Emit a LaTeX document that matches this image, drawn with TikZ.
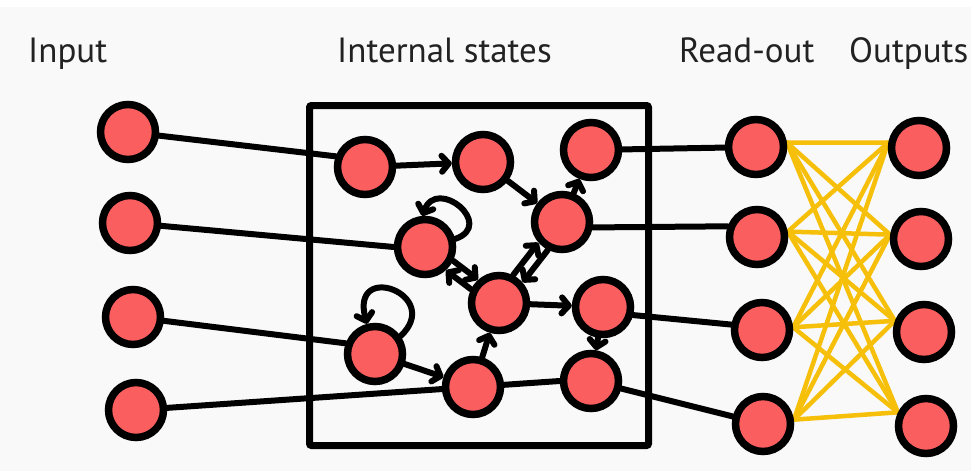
\documentclass[tikz,border=0pt]{standalone}
\usepackage{fontspec}
\setmainfont{PT Sans}
\usetikzlibrary{arrows.meta,calc,backgrounds}
\definecolor{nodered}{RGB}{250,94,94}
\definecolor{ylw}{RGB}{246,192,10}
\definecolor{bgc}{RGB}{249,249,249}
\definecolor{txt}{RGB}{34,34,34}
\begin{document}
\begin{tikzpicture}[x=1pt,y=-1pt,
  neuron/.style={circle,draw=black,line width=7.5pt,fill=nodered,minimum size=55pt,inner sep=0pt},
  conn/.style={line width=6pt,black,line cap=round},
  arr/.style={conn,-{Straight Barb[length=7pt,width=16pt,round]}},
  dbl/.style={arr,shorten <=31pt,shorten >=31pt},
  yl/.style={line width=4.5pt,ylw,line cap=round},
  lbl/.style={anchor=base west,inner sep=0pt,text=txt,font=\fontsize{35}{40}\selectfont}]
\useasboundingbox (0,0) rectangle (971,471);
% nodes
\node[neuron] (In1) at (128,132) {};
\node[neuron] (In2) at (130,223) {};
\node[neuron] (In3) at (133,317) {};
\node[neuron] (In4) at (136,410) {};
\node[neuron] (A) at (365,167) {};
\node[neuron] (B) at (483,162) {};
\node[neuron] (C) at (591,150) {};
\node[neuron] (D) at (562,222) {};
\node[neuron] (E) at (425,247) {};
\node[neuron] (F) at (499,303) {};
\node[neuron] (G) at (603,307) {};
\node[neuron] (H) at (375,354) {};
\node[neuron] (I) at (473,387) {};
\node[neuron] (J) at (591,381) {};
\node[neuron] (R1) at (756,147) {};
\node[neuron] (R2) at (757,237) {};
\node[neuron] (R3) at (762,330) {};
\node[neuron] (R4) at (763,424) {};
\node[neuron] (O1) at (919,148) {};
\node[neuron] (O2) at (921,239) {};
\node[neuron] (O3) at (924,332) {};
\node[neuron] (O4) at (926,426) {};
% labels
\node[lbl] (tIn) at (28,62) {Input};
\node[lbl] (tInt) at (337,62) {Internal states};
\node[lbl] (tRo) at (679,62) {Read-out};
\node[lbl] (tOut) at (849,62) {Outputs};
\begin{scope}[on background layer]
\fill[bgc] (0,0) rectangle (971,471);
\fill[white] (0,0) rectangle (971,7);
\draw[line width=7pt,rounded corners=2pt] (309.5,105.5) rectangle (648.5,445.5);
% input lines
\draw[conn] (In1) -- (A.160);
\draw[conn] (In2) -- (E.west);
\draw[conn] (In3) -- (H.160);
\draw[conn] (In4) -- (J.west);
% readout lines
\draw[conn] (C) -- (R1);
\draw[conn] (D.-10) -- (R2.160);
\draw[conn] (G.-15) -- (R3.170);
\draw[conn] (J) -- (R4);
% internal arrows
\draw[arr] (A) -- (B);
\draw[arr] (B) -- (D);
\draw[arr] (D) -- (C);
\draw[arr] (F) -- (G);
\draw[arr] (G) -- (J);
\draw[arr] (H) -- (I);
\draw[arr] (I) -- (F);
\draw[dbl] ($(E.center)!6pt!90:(F.center)$) -- ($(F.center)!6pt!-90:(E.center)$);
\draw[dbl] ($(F.center)!6pt!90:(E.center)$) -- ($(E.center)!6pt!-90:(F.center)$);
\draw[dbl] ($(F.center)!6pt!90:(D.center)$) -- ($(D.center)!6pt!-90:(F.center)$);
\draw[dbl] ($(D.center)!6pt!90:(F.center)$) -- ($(F.center)!6pt!-90:(D.center)$);
% self loops
\draw[arr] (E.15) .. controls (496,225) and (437,176) .. (E.95);
\draw[arr] (H.35) .. controls (444,295) and (350,260) .. (H.105);
% read-out to outputs
\foreach \r/\ra in {R1/8,R2/10,R3/5,R4/8}{
  \foreach \o/\oa in {O1/170,O2/172,O3/159,O4/154}{
    \draw[yl] (\r.\ra) -- (\o.\oa);
  }
}
\end{scope}
\end{tikzpicture}
\end{document}
